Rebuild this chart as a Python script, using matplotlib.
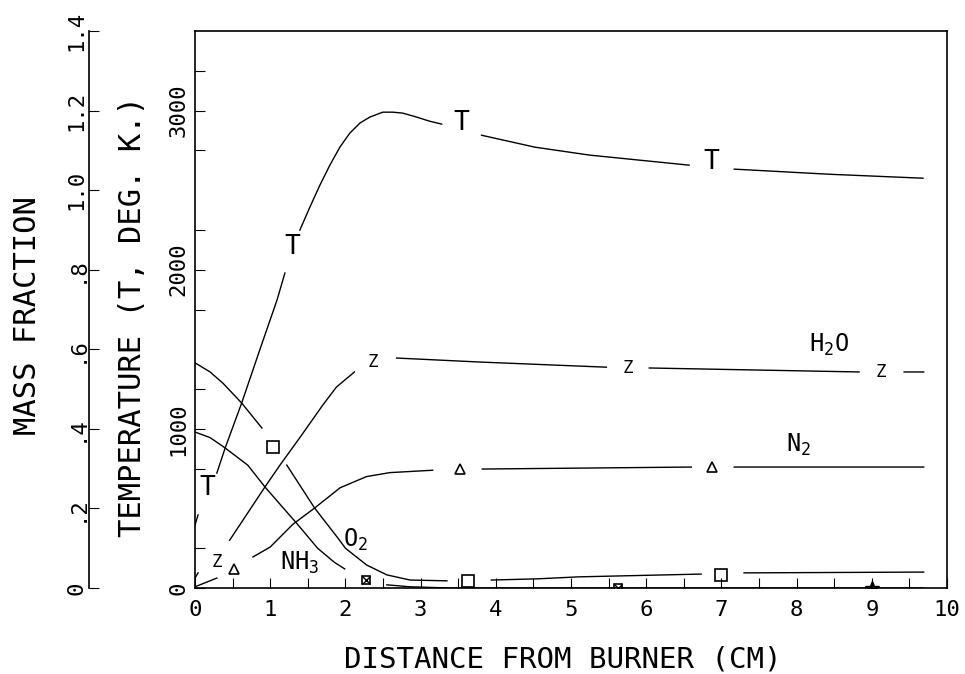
import numpy as np
import matplotlib
matplotlib.use("Agg")
import matplotlib.pyplot as plt

plt.rcParams['font.family'] = ['DejaVu Sans Mono', 'DejaVu Sans']
plt.rcParams['mathtext.fontset'] = 'custom'
plt.rcParams['mathtext.rm'] = 'DejaVu Sans Mono'
plt.rcParams['mathtext.it'] = 'DejaVu Sans Mono'

nan = np.nan

# temperature (K) vs distance (cm), nan = gap where a T symbol sits
t_x = [0.0, 0.04, nan, 0.29, 0.40, 0.62, 0.86, 1.09, 1.195, nan,
       1.394, 1.527, 1.66, 1.793, 1.926, 2.058, 2.191, 2.324, 2.497, 2.629, 2.762, 2.948, 3.121, 3.28,
       nan, 3.81, 4.52, 5.25, 6.57, nan, 7.17, 8.43, 9.68]
t_val = [396, 459, nan, 722, 879, 1162, 1495, 1809, 1979, nan,
         2249, 2393, 2531, 2657, 2770, 2858, 2921, 2959, 2990, 2990, 2984, 2959, 2933, 2915,
         nan, 2845, 2770, 2720, 2657, nan, 2632, 2600, 2575]
t_mark_x = [0.17, 1.29, 3.54, 6.87]
t_mark_y = [628, 2142, 2921, 2676]

# mass fractions
o2_x = [0.0, 0.20, 0.37, 0.62, 0.89, nan, 1.22, 1.59, 1.89, 2.0, 2.28, 2.55, 2.86, 3.35, nan,
        3.94, 4.55, 5.10, 6.73, nan, 7.30, 9.69]
o2_y = [0.566, 0.543, 0.515, 0.465, 0.402, nan, 0.309, 0.201, 0.128, 0.100, 0.058, 0.033, 0.020,
        0.018, nan, 0.020, 0.023, 0.028, 0.035, nan, 0.038, 0.040]
o2_mark_x = [1.04, 3.63, 7.00]
o2_mark_y = [0.354, 0.018, 0.033]

nh3_x = [0.0, 0.20, 0.40, 0.70, 0.93, 1.16, 1.35, 1.63, 1.85, 1.99, nan,
         2.55, 2.86, 3.40, 9.69]
nh3_y = [0.392, 0.378, 0.352, 0.309, 0.254, 0.204, 0.163, 0.100, 0.065, 0.048, nan,
         0.008, 0.003, 0.0, 0.0]
nh3_mark_x = [2.27, 5.63]
nh3_mark_y = [0.020, 0.0]
star_x = [9.0]
star_y = [0.0]

h2o_x = [0.0, 0.04, nan, 0.46, 0.93, 1.13, 1.39, 1.70, 1.88, 2.12, nan, 2.68, 3.78, 5.47, nan,
         6.04, 8.83, nan, 9.43, 9.69]
h2o_y = [0.025, 0.038, nan, 0.120, 0.254, 0.309, 0.377, 0.460, 0.505, 0.543, nan, 0.578, 0.568,
         0.555, nan, 0.553, 0.543, nan, 0.543, 0.543]
h2o_mark_x = [0.29, 2.37, 5.75, 9.12]
h2o_mark_y = [0.065, 0.567, 0.553, 0.543]

n2_x = [0.0, 0.29, nan, 0.77, 1.0, 1.30, 1.59, 1.93, 2.28, 2.59, 3.16, nan, 3.82, 6.60, nan,
        7.17, 9.69]
n2_y = [0.003, 0.025, nan, 0.078, 0.103, 0.160, 0.201, 0.252, 0.280, 0.290, 0.296, nan, 0.299,
        0.304, nan, 0.304, 0.304]
n2_mark_x = [0.52, 3.52, 6.88]
n2_mark_y = [0.048, 0.300, 0.304]

x_ticks = [0, 1, 2, 3, 4, 5, 6, 7, 8, 9, 10]
t_ticks = [0, 1000, 2000, 3000]
mf_ticks = [0, 0.2, 0.4, 0.6, 0.8, 1.0, 1.2, 1.4]
mf_labels = ['0', '.2', '.4', '.6', '.8', '1.0', '1.2', '1.4']

fig = plt.figure(figsize=(9.65, 6.74), dpi=100)
ax = fig.add_axes([0.2021, 0.1276, 0.7793, 0.8264])
ax2 = ax.twinx()

lw = 1.0
ax.plot(t_x, t_val, color='black', lw=lw)
for xm, ym in zip(t_mark_x, t_mark_y):
    ax.text(xm, ym, 'T', fontsize=19, ha='center', va='center')

ax2.plot(o2_x, o2_y, color='black', lw=lw)
ax2.plot(o2_mark_x, o2_mark_y, 's', ms=8, mfc='none', mec='black', mew=1.2)
ax2.plot(nh3_x, nh3_y, color='black', lw=lw)
ax2.plot(nh3_mark_x, nh3_mark_y, 's', ms=6, mfc='none', mec='black', mew=1.2)
ax2.plot(nh3_mark_x, nh3_mark_y, 'x', ms=6, mec='black', mew=1.0)
ax2.plot(star_x, star_y, '*', ms=10, color='black')
ax2.plot(h2o_x, h2o_y, color='black', lw=lw)
for xm, ym in zip(h2o_mark_x, h2o_mark_y):
    ax2.text(xm, ym, 'Z', fontsize=12.5, ha='center', va='center')
ax2.plot(n2_x, n2_y, color='black', lw=lw)
ax2.plot(n2_mark_x, n2_mark_y, '^', ms=7, mfc='none', mec='black', mew=1.2)

ax2.text(8.17, 0.593, r'$\mathregular{H_2O}$', fontsize=17, ha='left', va='baseline')
ax2.text(7.86, 0.342, r'$\mathregular{N_2}$', fontsize=17, ha='left', va='baseline')
ax2.text(1.97, 0.103, r'$\mathregular{O_2}$', fontsize=17, ha='left', va='baseline')
ax2.text(1.13, 0.045, r'$\mathregular{NH_3}$', fontsize=17, ha='left', va='baseline')

ax.set_xlim(0, 10)
ax.set_ylim(0, 3500)
ax2.set_ylim(0, 1.4)

ax.set_xticks(x_ticks)
ax.set_xticks(np.arange(0.5, 10, 1.0), minor=True)
ax.set_yticks(t_ticks)
ax.set_yticks(np.arange(250, 3500, 500), minor=True)
ax.tick_params(axis='x', which='both', direction='in', length=7.2, width=0.8, labelsize=16, pad=9,
               top=False)
ax.tick_params(axis='y', which='both', direction='in', length=7.2, width=0.8, labelsize=16, pad=5,
               labelrotation=90, right=False)
for lab in ax.get_yticklabels():
    lab.set_va('center')

for s in ax.spines.values():
    s.set_linewidth(1.2)

ax2.yaxis.set_ticks_position('left')
ax2.yaxis.set_label_position('left')
ax2.spines['left'].set_position(('outward', 76.3))
ax2.spines['left'].set_linewidth(1.2)
for k in ['right', 'top', 'bottom']:
    ax2.spines[k].set_visible(False)
ax2.set_yticks(mf_ticks)
ax2.set_yticklabels(mf_labels)
ax2.tick_params(axis='y', direction='in', length=7.2, width=0.8, labelsize=16, pad=2,
                labelrotation=90)
for lab in ax2.get_yticklabels():
    lab.set_va('center')

ax.set_xlabel('DISTANCE FROM BURNER (CM)', fontsize=21)
ax.xaxis.set_label_coords(0.489, -0.104)
ax.set_ylabel('TEMPERATURE (T, DEG. K.)', fontsize=22)
ax.yaxis.set_label_coords(-0.064, 0.487)
ax2.set_ylabel('MASS FRACTION', fontsize=22)
ax2.yaxis.set_label_coords(-0.203, 0.49)

fig.savefig('out.png', dpi=100)
